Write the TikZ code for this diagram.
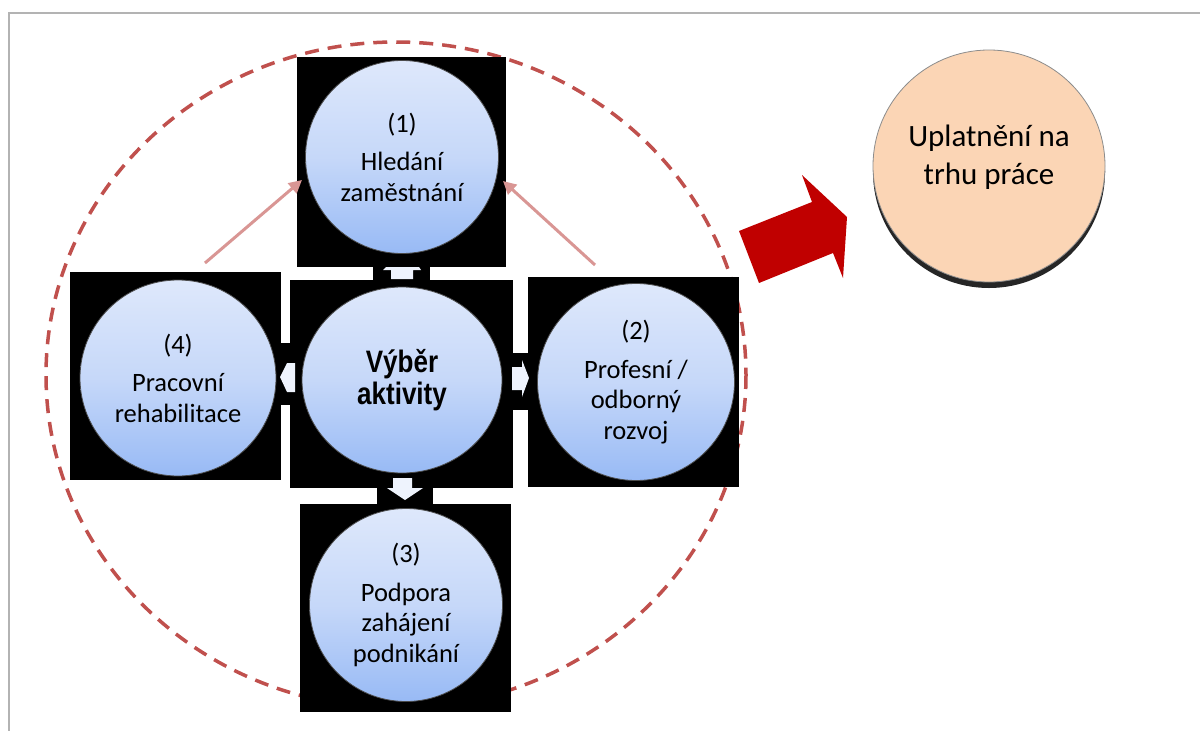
\documentclass[tikz,border=0pt]{standalone}
\usepackage{fontspec}
\setmainfont{Carlito}
\newfontfamily\vfont[FakeStretch=0.84]{Liberation Sans}
\usetikzlibrary{shapes.geometric,arrows.meta}
\definecolor{dashred}{HTML}{C0504D}
\definecolor{pinkarr}{HTML}{D99694}
\definecolor{bigred}{HTML}{C00000}
\definecolor{peach}{HTML}{FBD5B5}
\definecolor{bluetop}{HTML}{DEE8FB}
\definecolor{bluemid}{HTML}{C6D8F9}
\definecolor{bluebot}{HTML}{98BAF5}
\definecolor{arrwhite}{HTML}{EEF3FD}
\definecolor{frame}{HTML}{B3B3B3}
\tikzset{
  blackbox/.style={fill=black, draw=none},
  bluecirc/.style={circle, inner sep=0pt, minimum size=#1, top color=bluetop, bottom color=bluebot, middle color=bluemid, draw=black!70, line width=0.8pt, align=center, font=\fontsize{26.5}{30.5}\selectfont},
  whitearrow/.style={fill=arrwhite, draw=none},
  pinkconn/.style={draw=pinkarr, line width=3pt, -{Triangle[length=13pt,width=13pt]}},
}
\begin{document}
\begin{tikzpicture}[x=1pt,y=-1pt]
\useasboundingbox (0,0) rectangle (1200,731);
\fill[white] (0,0) rectangle (1200,731);
% frame
\draw[frame, line width=2pt] (9,731) -- (9,13) -- (1200,13);
% dashed outer ellipse
\draw[dashred, line width=3.5pt, dash pattern=on 14pt off 9pt] (396,375) ellipse [x radius=350, y radius=333];
% black squares
\fill[blackbox] (297,57) rectangle (506,267);
\fill[blackbox] (290,280) rectangle (513,488);
\fill[blackbox] (70,272) rectangle (281,480);
\fill[blackbox] (528,277) rectangle (739,487);
\fill[blackbox] (300,504) rectangle (511,712);
% connector blocks
\fill[blackbox] (373,265) rectangle (430,292);
\fill[blackbox] (279,343) rectangle (292,405);
\fill[blackbox] (511,353) rectangle (530,410);
\fill[blackbox] (377,478) rectangle (433,505);
% white arrows
\fill[whitearrow] (383,270) -- (386,267) -- (419,267) -- (421,270) -- (413,270) -- (413,279) -- (391,279) -- (391,270) -- cycle;
\fill[whitearrow] (280,377) -- (287,363) -- (295,363) -- (295,392) -- (287,392) -- cycle;
\fill[whitearrow] (512,367) -- (522,367) -- (522,360) -- (529,378) -- (522,397) -- (522,390) -- (512,390) -- cycle;
\fill[whitearrow] (393,478) -- (412,478) -- (412,488) -- (423,488) -- (405,500) -- (387,488) -- (393,488) -- cycle;
% circles
\node[bluecirc=193pt] (c1) at (402,157) {(1)\\[8pt]Hledání\\zaměstnání};
\node[bluecirc=196pt] (c4) at (178,378) {(4)\\[8pt]Pracovní\\rehabilitace};
\node[bluecirc=197pt] (c2) at (636,382) {(2)\\[8pt]Profesní /\\odborný\\rozvoj};
\node[bluecirc=193pt] (c3) at (406,605) {(3)\\[8pt]Podpora\\zahájení\\podnikání};
\node[ellipse, inner sep=0pt, minimum width=200pt, minimum height=186pt, top color=bluetop, bottom color=bluebot, middle color=bluemid, draw=black!70, line width=0.8pt, align=center, font=\vfont\bfseries\fontsize{31}{32}\selectfont] (c0) at (402,380) {Výběr\\aktivity};
% pink arrows
\coordinate (p1s) at (205,263);
\coordinate (p1e) at (302,180);
\coordinate (p2s) at (595,265);
\coordinate (p2e) at (503,181);
\draw[pinkconn] (p1s) -- (p1e);
\draw[pinkconn] (p2s) -- (p2e);
% big red arrow
\fill[bigred] (739,231) -- (812,202) -- (802,175) -- (847,217) -- (843,278) -- (833,253) -- (759,283) -- cycle;
% goal circle
\fill[black!85] (989,172) circle (116);
\node[circle, inner sep=0pt, minimum size=232pt, fill=peach, draw=black!45, line width=0.8pt] (goal) at (989,166) {};
\node[align=center, font=\fontsize{31}{38}\selectfont] (goaltext) at (989,157) {Uplatnění na\\trhu práce};
\end{tikzpicture}
\end{document}
